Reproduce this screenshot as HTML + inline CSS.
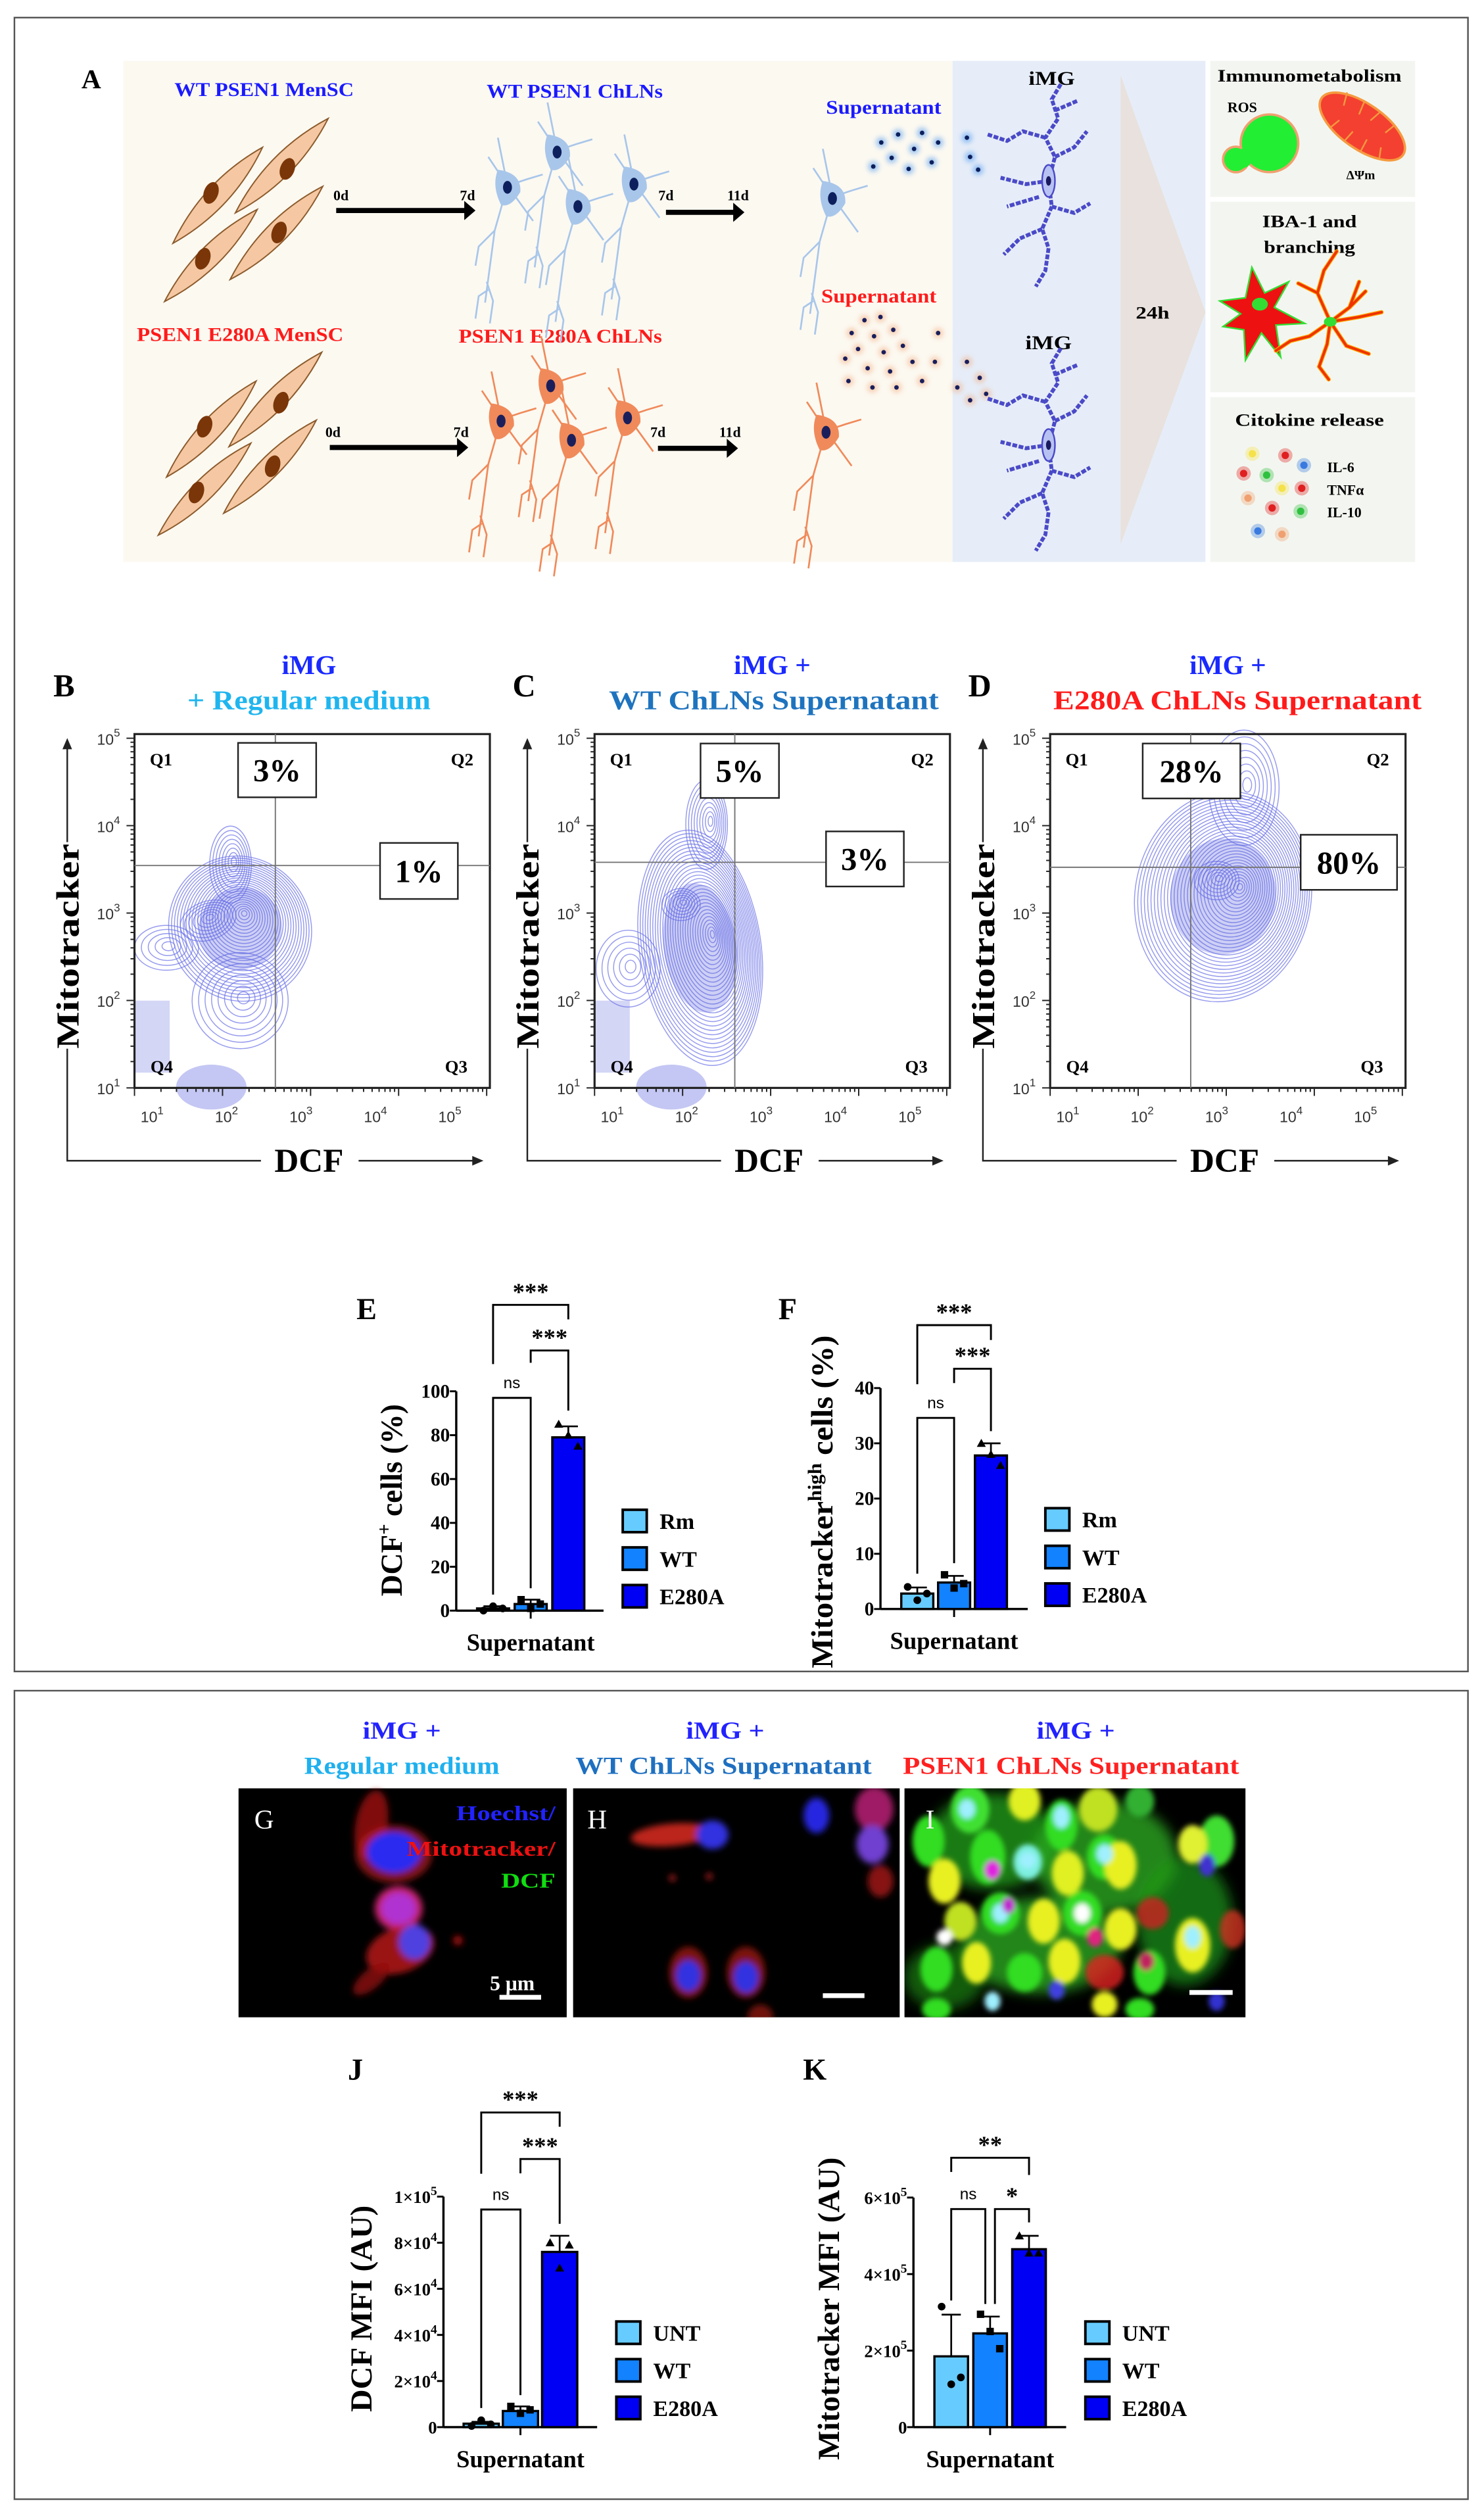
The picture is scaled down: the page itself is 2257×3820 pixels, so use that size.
<!DOCTYPE html>
<html><head><meta charset="utf-8"><style>
html,body{margin:0;padding:0;background:#fff;}
svg{display:block;}
text{font-family:"Liberation Serif",serif;}
.sans{font-family:"Liberation Sans",sans-serif;}
</style></head><body>
<svg id="fig" xmlns="http://www.w3.org/2000/svg" width="2257" height="3820" viewBox="0 0 927 1569">
<defs>
<filter id="blur1" x="-50%" y="-50%" width="200%" height="200%"><feGaussianBlur stdDeviation="1.6"/></filter>
<filter id="blur3" x="-50%" y="-50%" width="200%" height="200%"><feGaussianBlur stdDeviation="4"/></filter>
<filter id="blur2" x="-50%" y="-50%" width="200%" height="200%"><feGaussianBlur stdDeviation="2"/></filter>
</defs>
<rect width="927" height="1569" fill="#fff"/>
<rect x="9" y="11" width="908" height="1033" fill="none" stroke="#555" stroke-width="1"/>
<rect x="9" y="1056" width="908" height="505" fill="none" stroke="#555" stroke-width="1"/>

<g id="panelA">
<rect x="77" y="38" width="518" height="313" fill="#fcf9f1"/>
<rect x="595" y="38" width="158" height="313" fill="#e6edf8"/>
<polygon points="700,47 753,195 700,340" fill="#e8e1dd"/>
<text x="720" y="199" font-size="11" font-weight="bold" text-anchor="middle" textLength="21" lengthAdjust="spacingAndGlyphs">24h</text>
<rect x="756" y="38" width="128" height="85" fill="#f3f6f0"/>
<rect x="756" y="126" width="128" height="119" fill="#f3f6f0"/>
<rect x="756" y="248" width="128" height="103" fill="#f3f6f0"/>
<text x="57" y="55" font-size="17" font-weight="bold" text-anchor="middle">A</text>
<text x="165" y="60" font-size="12" font-weight="bold" fill="#1a1aff" text-anchor="middle" textLength="112" lengthAdjust="spacingAndGlyphs">WT PSEN1 MenSC</text>
<text x="359" y="61" font-size="12" font-weight="bold" fill="#1a1aff" text-anchor="middle" textLength="110" lengthAdjust="spacingAndGlyphs">WT PSEN1 ChLNs</text>
<text x="552" y="71" font-size="12" font-weight="bold" fill="#1a1aff" text-anchor="middle" textLength="72" lengthAdjust="spacingAndGlyphs">Supernatant</text>
<text x="549" y="189" font-size="12" font-weight="bold" fill="#ff1a1a" text-anchor="middle" textLength="72" lengthAdjust="spacingAndGlyphs">Supernatant</text>
<text x="150" y="213" font-size="12" font-weight="bold" fill="#ff1a1a" text-anchor="middle" textLength="129" lengthAdjust="spacingAndGlyphs">PSEN1 E280A MenSC</text>
<text x="350" y="214" font-size="12" font-weight="bold" fill="#ff1a1a" text-anchor="middle" textLength="127" lengthAdjust="spacingAndGlyphs">PSEN1 E280A ChLNs</text>
<text x="657" y="53" font-size="12" font-weight="bold" text-anchor="middle" textLength="29" lengthAdjust="spacingAndGlyphs">iMG</text>
<text x="655" y="218" font-size="12" font-weight="bold" text-anchor="middle" textLength="29" lengthAdjust="spacingAndGlyphs">iMG</text>
<text x="818" y="51" font-size="11" font-weight="bold" text-anchor="middle" textLength="115" lengthAdjust="spacingAndGlyphs">Immunometabolism</text>
<text x="776" y="70" font-size="9" font-weight="bold" text-anchor="middle">ROS</text>
<text x="850" y="112" font-size="8" font-weight="bold" text-anchor="middle">ΔΨm</text>
<text x="818" y="142" font-size="11" font-weight="bold" text-anchor="middle" textLength="59" lengthAdjust="spacingAndGlyphs">IBA-1 and</text>
<text x="818" y="158" font-size="11" font-weight="bold" text-anchor="middle" textLength="57" lengthAdjust="spacingAndGlyphs">branching</text>
<text x="818" y="266" font-size="11" font-weight="bold" text-anchor="middle" textLength="93" lengthAdjust="spacingAndGlyphs">Citokine release</text>
<text x="829" y="295" font-size="9" font-weight="bold">IL-6</text>
<text x="829" y="309" font-size="9" font-weight="bold">TNFα</text>
<text x="829" y="323" font-size="9" font-weight="bold">IL-10</text>
<g>
<circle cx="772" cy="99.6" r="8" fill="#22ee33" stroke="#f0a070" stroke-width="1.5"/>
<circle cx="793" cy="89.5" r="18" fill="#22ee33" stroke="#f0a070" stroke-width="1.5"/>
<circle cx="776" cy="99" r="6" fill="#22ee33"/>
</g>
<g transform="translate(851,79) rotate(35)">
<ellipse rx="31" ry="14" fill="#f44030" stroke="#f59a40" stroke-width="1.5"/>
<path d="M-20,-12 l3,8 M-8,-14 l2,9 M4,-14 l-2,8 M16,-12 l-2,7 M-16,12 l2,-7 M-4,14 l1,-8 M8,13 l-1,-8 M20,10 l-3,-6" stroke="#f59a40" stroke-width="1"/>
</g>
<g>
<path d="M762,188 L778,186 L782,167 L790,183 L805,176 L796,192 L815,202 L797,203 L800,223 L788,208 L778,225 L777,206 L764,204 L775,196 Z" fill="#ee1111" stroke="#33dd33" stroke-width="1"/>
<ellipse cx="787" cy="190" rx="5" ry="4" fill="#33dd33"/>
</g>
<g stroke="#ee3300" stroke-width="1.6" fill="none" stroke-linecap="round">
<path d="M831,201 l-8,-18 l4,-14 l8,-12 M831,201 l12,-9 l10,-10 M831,201 l18,-3 l14,-3 M831,201 l10,15 l14,5 M831,201 l-2,14 l-5,14 l6,8 M831,201 l-13,9 l-12,3 l-9,6 M823,183 l-12,-6 M843,192 l6,-16" stroke="#ffaa00" stroke-width="2.6"/>
<path d="M831,201 l-8,-18 l4,-14 l8,-12 M831,201 l12,-9 l10,-10 M831,201 l18,-3 l14,-3 M831,201 l10,15 l14,5 M831,201 l-2,14 l-5,14 l6,8 M831,201 l-13,9 l-12,3 l-9,6 M823,183 l-12,-6 M843,192 l6,-16"/>
<ellipse cx="831" cy="201" rx="4" ry="3" fill="#33dd33" stroke="none"/>
</g>
<g id="cytokines"></g>
<g id="cellsTop"></g>
<g id="cellsBot"></g>
<g id="arrowsA"></g>
</g>

<g id="flow"></g>

<g id="chartE"></g>
<g id="chartF"></g>
<g id="chartJ"></g>
<g id="chartK"></g>

<g font-weight="bold" text-anchor="middle">
<text x="251" y="1086" font-size="15" fill="#2222ff" textLength="49" lengthAdjust="spacingAndGlyphs">iMG +</text>
<text x="251" y="1108" font-size="15" fill="#1fb0ee" textLength="122" lengthAdjust="spacingAndGlyphs">Regular medium</text>
<text x="453" y="1086" font-size="15" fill="#2222ff" textLength="49" lengthAdjust="spacingAndGlyphs">iMG +</text>
<text x="452" y="1108" font-size="15" fill="#1e6fc0" textLength="185" lengthAdjust="spacingAndGlyphs">WT ChLNs  Supernatant</text>
<text x="672" y="1086" font-size="15" fill="#2222ff" textLength="49" lengthAdjust="spacingAndGlyphs">iMG +</text>
<text x="669" y="1108" font-size="15" fill="#ff2020" textLength="210" lengthAdjust="spacingAndGlyphs">PSEN1 ChLNs  Supernatant</text>
</g>
<g>
<rect x="149" y="1117" width="205" height="143" fill="#000"/>
<g id="mg" filter="url(#blur2)"></g>
<text x="165" y="1142" font-size="17" fill="#fff" text-anchor="middle">G</text>
<text x="347" y="1137" font-size="13" font-weight="bold" fill="#2222ff" text-anchor="end" textLength="62" lengthAdjust="spacingAndGlyphs">Hoechst/</text>
<text x="347" y="1159" font-size="13" font-weight="bold" fill="#ee1111" text-anchor="end" textLength="93" lengthAdjust="spacingAndGlyphs">Mitotracker/</text>
<text x="347" y="1179" font-size="13" font-weight="bold" fill="#11dd11" text-anchor="end" textLength="34" lengthAdjust="spacingAndGlyphs">DCF</text>
<text x="320" y="1243" font-size="13" font-weight="bold" fill="#fff" text-anchor="middle">5 μm</text>
<rect x="312" y="1246" width="26" height="3" fill="#fff"/>
</g>
<g>
<rect x="358" y="1117" width="204" height="143" fill="#000"/>
<svg x="358" y="1117" width="204" height="143" viewBox="358 1117 204 143"><g id="mh" filter="url(#blur2)"></g></svg>
<text x="373" y="1142" font-size="17" fill="#fff" text-anchor="middle">H</text>
<rect x="514" y="1245" width="26" height="3" fill="#fff"/>
</g>
<g>
<rect x="565" y="1117" width="213" height="143" fill="#000"/>
<svg x="565" y="1117" width="213" height="143" viewBox="565 1117 213 143"><g id="miBg" filter="url(#blur3)"></g><g id="mi" filter="url(#blur1)"></g></svg>
<text x="581" y="1142" font-size="17" fill="#fff" text-anchor="middle">I</text>
<rect x="743" y="1243" width="27" height="3" fill="#fff"/>
</g>
</svg>
<script>
const eCategories = ['Rm', 'WT', 'E280A'];
const eMeans = [1, 3, 79];
const eErrors = [1, 2, 5];
const ePoints = [[0, 2, 1], [5, 1, 3], [85, 80, 75]];
const eTicks = [0, 20, 40, 60, 80, 100];
const eTickLabels = ['0', '20', '40', '60', '80', '100'];

const fCategories = ['Rm', 'WT', 'E280A'];
const fMeans = [2.8, 4.8, 27.8];
const fErrors = [1.1, 1.2, 2.2];
const fPoints = [[4, 1.6, 2.8], [6.2, 3.8, 4.6], [30, 28, 26]];
const fTicks = [0, 10, 20, 30, 40];
const fTickLabels = ['0', '10', '20', '30', '40'];

const jCategories = ['UNT', 'WT', 'E280A'];
const jMeans = [1500, 7000, 76000];
const jErrors = [800, 2000, 7000];
const jPoints = [[500, 3000, 1200], [9000, 6000, 7500], [80000, 69000, 79000]];
const jTicks = [0, 20000, 40000, 60000, 80000, 100000];
const jTickLabels = ['0', '2×10^4', '4×10^4', '6×10^4', '8×10^4', '1×10^5'];

const kCategories = ['UNT', 'WT', 'E280A'];
const kMeans = [185000, 245000, 465000];
const kErrors = [109000, 44000, 35000];
const kPoints = [[315000, 112000, 130000], [295000, 250000, 205000], [500000, 455000, 455000]];
const kTicks = [0, 200000, 400000, 600000];
const kTickLabels = ['0', '2×10^5', '4×10^5', '6×10^5'];

const barColors = ['#66ccff', '#1282ff', '#0000f5'];
const NS = 'http://www.w3.org/2000/svg';
function mk(tag, attrs, parent) {
  const e = document.createElementNS(NS, tag);
  for (const k in attrs) e.setAttribute(k, attrs[k]);
  if (parent) parent.appendChild(e);
  return e;
}
function supText(parent, str, attrs, supSize) {
  const t = mk('text', attrs, parent);
  const parts = str.split('^');
  t.appendChild(document.createTextNode(parts[0]));
  if (parts[1] !== undefined) {
    const s = mk('tspan', {'font-size': supSize, dy: -5}, t);
    s.textContent = parts[1];
  }
  return t;
}

function barChart(g, cfg, cats, means, errs, pts, ticks, tickLabels, brackets) {
  const y = v => cfg.y0 - v / cfg.vmax * (cfg.y0 - cfg.yTop);
  const bx = i => cfg.x0 + cfg.offset + i * cfg.spacing;
  const ya = mk('line', {x1: cfg.x0, y1: cfg.y0, x2: cfg.x0, y2: cfg.yTop, stroke: '#000', 'stroke-width': 1.4}, g);
  
  
  const xa = mk('line', {x1: cfg.x0, y1: cfg.y0, x2: cfg.xEnd, y2: cfg.y0, stroke: '#000', 'stroke-width': 1.4}, g);
  
  
  const xt = mk('line', {x1: bx(1), y1: cfg.y0, x2: bx(1), y2: cfg.y0 + 5, stroke: '#000', 'stroke-width': 1.2}, g);
  
  
  ticks.forEach((v, i) => {
    const tk = mk('line', {x1: cfg.x0 - 4, y1: y(v), x2: cfg.x0, y2: y(v), stroke: '#000', 'stroke-width': 1.2}, g);
    
    
    const tl = supText(g, tickLabels[i], {x: cfg.x0 - 4, y: y(v) + 4, 'font-size': cfg.tickFont, 'font-weight': 'bold', 'text-anchor': 'end'}, 8);
    
    
  });
  cats.forEach((c, i) => {
    const r = mk('rect', {x: bx(i) - cfg.bw / 2, y: y(means[i]), width: cfg.bw, height: cfg.y0 - y(means[i]), fill: barColors[i], stroke: '#000', 'stroke-width': 1.4}, g);
    
    
    const eb = mk('path', {d: `M${bx(i)},${y(means[i])}V${y(means[i] + errs[i])}M${bx(i) - 6},${y(means[i] + errs[i])}h12`, stroke: '#000', 'stroke-width': 1.1, fill: 'none'}, g);
    
    
    pts[i].forEach((p, j) => {
      const px = bx(i) + (j - 1) * 6, py = y(p);
      let m;
      if (i === 0) m = mk('circle', {cx: px, cy: py, r: 2.4, fill: '#000'}, g);
      else if (i === 1) m = mk('rect', {x: px - 2.3, y: py - 2.3, width: 4.6, height: 4.6, fill: '#000'}, g);
      else m = mk('path', {d: `M${px},${py - 2.8}L${px + 2.8},${py + 2.2}L${px - 2.8},${py + 2.2}Z`, fill: '#000'}, g);
      
      
    });
    const ly = cfg.legY + i * cfg.legGap;
    const ls = mk('rect', {x: cfg.legX, y: ly - 7, width: 15, height: 14, fill: barColors[i], stroke: '#000', 'stroke-width': 1.6}, g);
    
    
    const lt = mk('text', {x: cfg.legX + 23, y: ly + 5, 'font-size': 14, 'font-weight': 'bold'}, g);
    lt.textContent = c;
    
    
  });
  brackets.forEach(b => {
    const xa_ = bx(b.a) + (b.da || 0), xb_ = bx(b.b) + (b.db || 0);
    const p = mk('path', {d: `M${xa_},${y(b.yl)}V${y(b.y)}H${xb_}V${y(b.yr)}`, stroke: '#000', 'stroke-width': 1.2, fill: 'none'}, g);
    
    
    const isNs = b.label === 'ns';
    const t = mk('text', {x: (xa_ + xb_) / 2, y: y(b.y) - (isNs ? 6 : 3), 'font-size': isNs ? 10 : 15, 'font-weight': isNs ? 'normal' : 'bold', 'text-anchor': 'middle', class: isNs ? 'sans' : ''}, g);
    t.textContent = b.label;
    
    
  });
  const xl = mk('text', {x: bx(1), y: cfg.y0 + 25, 'font-size': 15, 'font-weight': 'bold', 'text-anchor': 'middle'}, g);
  xl.textContent = 'Supernatant';
  
  
  const yt = mk('text', {x: 0, y: 0, 'font-size': 19, 'font-weight': 'bold', 'text-anchor': 'middle', transform: `translate(${cfg.ytX},${cfg.ytY}) rotate(-90)`, textLength: cfg.ytLen, lengthAdjust: 'spacingAndGlyphs'}, g);
  cfg.ytParts.forEach(pp => {
    const s = mk('tspan', pp.sup ? {'font-size': 12, dy: -7} : (pp.after ? {dy: 7} : {}), yt);
    s.textContent = pp.t;
  });
  
  
  const pl = mk('text', {x: cfg.letX, y: cfg.letY, 'font-size': 19, 'font-weight': 'bold', 'text-anchor': 'middle'}, g);
  pl.textContent = cfg.letter;
  
  
}

barChart(document.getElementById('chartE'),
  {x0: 285, y0: 1006, yTop: 869, vmax: 100, offset: 23, spacing: 23.5, bw: 20, xEnd: 377, tickFont: 12, legX: 389, legY: 950, legGap: 23.5,
   ytX: 251, ytY: 937, ytLen: 120, ytParts: [{t: 'DCF'}, {t: '+', sup: true}, {t: ' cells (%)', after: true}], letter: 'E', letX: 229, letY: 824},
  eCategories, eMeans, eErrors, ePoints, eTicks, eTickLabels,
  [{a: 0, b: 2, y: 139.4, yl: 112.4, yr: 132.8, label: '***'},
   {a: 1, b: 2, y: 118.6, yl: 113, yr: 91.2, label: '***'},
   {a: 0, b: 1, y: 97, yl: 7.3, yr: 10.2, label: 'ns'}]);

barChart(document.getElementById('chartF'),
  {x0: 550, y0: 1005, yTop: 867, vmax: 40, offset: 23, spacing: 23, bw: 20, xEnd: 642, tickFont: 12, legX: 653, legY: 949, legGap: 23.5,
   ytX: 520, ytY: 938, ytLen: 208, ytParts: [{t: 'Mitotracker'}, {t: 'high', sup: true}, {t: ' cells (%)', after: true}], letter: 'F', letX: 492, letY: 824},
  fCategories, fMeans, fErrors, fPoints, fTicks, fTickLabels,
  [{a: 0, b: 2, y: 51.4, yl: 40.7, yr: 48.7, label: '***'},
   {a: 1, b: 2, y: 43.5, yl: 40.9, yr: 32.2, label: '***'},
   {a: 0, b: 1, y: 34.6, yl: 6.4, yr: 8.3, label: 'ns'}]);

barChart(document.getElementById('chartJ'),
  {x0: 277, y0: 1516, yTop: 1372, vmax: 100000, offset: 23.6, spacing: 24.5, bw: 22, xEnd: 373, tickFont: 11, legX: 385, legY: 1457, legGap: 23.5,
   ytX: 232, ytY: 1442, ytLen: 129, ytParts: [{t: 'DCF MFI (AU)'}], letter: 'J', letX: 222, letY: 1299},
  jCategories, jMeans, jErrors, jPoints, jTicks, jTickLabels,
  [{a: 0, b: 2, y: 136500, yl: 109900, yr: 130300, label: '***'},
   {a: 1, b: 2, y: 116300, yl: 110100, yr: 88200, label: '***'},
   {a: 0, b: 1, y: 94400, yl: 8300, yr: 13900, label: 'ns'}]);

barChart(document.getElementById('chartK'),
  {x0: 570.6, y0: 1516, yTop: 1372.6, vmax: 600000, offset: 23.6, spacing: 24.3, bw: 21, xEnd: 666, tickFont: 11, legX: 678, legY: 1457, legGap: 23.5,
   ytX: 524, ytY: 1442, ytLen: 189, ytParts: [{t: 'Mitotracker MFI (AU)'}], letter: 'K', letX: 509, letY: 1299},
  kCategories, kMeans, kErrors, kPoints, kTicks, kTickLabels,
  [{a: 0, b: 2, y: 704000, yl: 667000, yr: 659000, label: '**'},
   {a: 0, b: 1, y: 570000, yl: 331000, yr: 322000, db: -3, label: 'ns'},
   {a: 1, b: 2, y: 570000, yl: 322000, yr: 535000, da: 3, label: '*'}]);

const flowLetters = ['B', 'C', 'D'];
const flowOffsets = [0, 287.4, 572];
const flowQ1Labels = ['3%', '5%', '28%'];
const flowQ2Labels = ['1%', '3%', '80%'];
const flowTitle1 = ['iMG', 'iMG +', 'iMG +'];
const flowTitle2 = ['+ Regular medium', 'WT ChLNs  Supernatant', 'E280A ChLNs  Supernatant'];
const flowTitle2Color = ['#1fb5ee', '#1e73be', '#ff1a1a'];
const flowTitle2Len = [152, 206, 230];
const flowQuadX = [172, 171.6, 171.8];
const flowQuadY = [540.6, 538.6, 541.7];
const flowBoxA = [[148.7, 464, 48.8, 34], [150.2, 464.4, 49, 34], [141.8, 464.4, 61, 34.3]];
const flowBoxB = [[237.4, 526.5, 48.6, 35], [228.6, 519.3, 48.6, 34.4], [240.5, 521.4, 60.2, 34.4]];
const flowBlobs = [
  [[150, 580, 44, 46, -35, 26], [144, 540, 13, 24, 0, 8], [104, 592, 20, 14, 0, 5], [130, 575, 18, 12, -20, 7], [150, 625, 30, 30, 0, 8]],
  [[150, 592, 38, 74, -8, 30], [154, 515, 13, 28, 0, 9], [138, 565, 12, 10, 0, 6], [105, 605, 20, 24, 0, 6]],
  [[192, 560, 55, 66, 10, 32], [205, 492, 22, 36, 0, 8], [188, 550, 14, 12, 0, 6]]
];
const fl = document.getElementById('flow');
const X0 = 84, X1 = 306, Y0 = 679.5, Y1 = 458.5;
const decX = d => X0 + (d - 1) * 55;
const decY = d => Y0 - (d - 1) * 54.6;
flowLetters.forEach((L, p) => {
  const o = flowOffsets[p];
  const g = mk('g', {transform: `translate(${o},0)`}, fl);
  
  
  const cg = mk('g', {fill: 'none', stroke: '#6a70e6', 'stroke-opacity': 0.7, 'stroke-width': 0.6}, g);
  
  
  if (p < 2) {
    const f1 = mk('rect', {x: 84, y: 625, width: 22, height: 45, fill: '#d4d6f6', stroke: 'none'}, cg);
    
    
    const f2 = mk('ellipse', {cx: 132, cy: 679, rx: 22, ry: 14, fill: '#c4c7f3', stroke: 'none'}, cg);
    
    
  }
  flowBlobs[p].forEach(b => {
    for (let k = 0; k < b[5]; k++) {
      const f = 1 - k / b[5];
      const e = mk('ellipse', {cx: b[0] + k * 0.3, cy: b[1] - k * 0.25, rx: Math.max(1, b[2] * f), ry: Math.max(1, b[3] * f), transform: `rotate(${b[4]},${b[0]},${b[1]})`}, cg);
      
      
    }
  });
  const core = mk('ellipse', {cx: flowBlobs[p][0][0], cy: flowBlobs[p][0][1], rx: flowBlobs[p][0][2] * 0.6, ry: flowBlobs[p][0][3] * 0.55, fill: '#5a60dd', opacity: 0.3, stroke: 'none', transform: `rotate(${flowBlobs[p][0][4]},${flowBlobs[p][0][0]},${flowBlobs[p][0][1]})`}, cg);
  
  
  const box = mk('rect', {x: X0, y: Y1, width: X1 - X0, height: Y0 - Y1, fill: 'none', stroke: '#222', 'stroke-width': 1.3}, g);
  
  
  const qv = mk('line', {x1: flowQuadX[p], y1: Y1, x2: flowQuadX[p], y2: Y0, stroke: '#777', 'stroke-width': 0.8}, g);
  
  
  const qh = mk('line', {x1: X0, y1: flowQuadY[p], x2: X1, y2: flowQuadY[p], stroke: '#777', 'stroke-width': 0.8}, g);
  
  
  for (let d = 1; d <= 5; d++) {
    for (let m = 1; m <= 9; m++) {
      const v = d + Math.log10(m);
      if (v > 5.2) continue;
      const len = m === 1 ? 5 : 2.5;
      const tx = mk('line', {x1: decX(v), y1: Y0, x2: decX(v), y2: Y0 + len, stroke: '#222', 'stroke-width': 0.8}, g);
      
      
      const ty = mk('line', {x1: X0 - len, y1: decY(v), x2: X0, y2: decY(v), stroke: '#222', 'stroke-width': 0.8}, g);
      
      
    }
    const lx = supText(g, '10^' + d, {x: 95 + (d - 1) * 46.5, y: 701, 'font-size': 9.5, fill: '#333', 'text-anchor': 'middle', class: 'sans'}, 7);
    
    
    const ly = supText(g, '10^' + d, {x: 75, y: decY(d) + 4, 'font-size': 9.5, fill: '#333', 'text-anchor': 'end', class: 'sans'}, 7);
    
    
  }
  const qls = [['Q1', 100.6, 478], ['Q2', 288.7, 478], ['Q4', 101, 670], ['Q3', 285, 670]];
  qls.forEach(q => {
    const t = mk('text', {x: q[1], y: q[2], 'font-size': 11, 'font-weight': 'bold', 'text-anchor': 'middle'}, g);
    t.textContent = q[0];
    
    
  });
  [[flowBoxA[p], flowQ1Labels[p]], [flowBoxB[p], flowQ2Labels[p]]].forEach((bb, i) => {
    const r = mk('rect', {x: bb[0][0], y: bb[0][1], width: bb[0][2], height: bb[0][3], fill: '#fff', stroke: '#222', 'stroke-width': 1}, g);
    
    
    const t = mk('text', {x: bb[0][0] + bb[0][2] / 2, y: bb[0][1] + bb[0][3] / 2 + 7, 'font-size': 20, 'font-weight': 'bold', 'text-anchor': 'middle'}, g);
    t.textContent = bb[1];
    
    
  });
  const ar = mk('path', {d: 'M42,526V466M42,655V725H163M224,725H297', stroke: '#222', 'stroke-width': 1, fill: 'none'}, g);
  
  
  const ah = mk('path', {d: 'M39,468L42,461L45,468ZM295,722L302,725L295,728Z', fill: '#222'}, g);
  
  
  const yl = mk('text', {x: 0, y: 0, 'font-size': 20, 'font-weight': 'bold', 'text-anchor': 'middle', transform: 'translate(49,591) rotate(-90)', textLength: 128, lengthAdjust: 'spacingAndGlyphs'}, g);
  yl.textContent = 'Mitotracker';
  
  
  const xl = mk('text', {x: 193, y: 732, 'font-size': 21, 'font-weight': 'bold', 'text-anchor': 'middle'}, g);
  xl.textContent = 'DCF';
  
  
  const pl = mk('text', {x: 40, y: 435, 'font-size': 20, 'font-weight': 'bold', 'text-anchor': 'middle'}, g);
  pl.textContent = L;
  
  
  const t1 = mk('text', {x: p === 0 ? 193 : 195, y: 421, 'font-size': 17, 'font-weight': 'bold', 'text-anchor': 'middle', fill: '#1a2aff'}, g);
  t1.textContent = flowTitle1[p];
  
  
  const t2 = mk('text', {x: p === 0 ? 193 : (p === 1 ? 196 : 201), y: 443, 'font-size': 17, 'font-weight': 'bold', 'text-anchor': 'middle', fill: flowTitle2Color[p], textLength: flowTitle2Len[p], lengthAdjust: 'spacingAndGlyphs'}, g);
  t2.textContent = flowTitle2[p];
  
  
});

function spindle(g, ax, ay, bx_, by, w, nx, ny, fill, stroke, nuc) {
  const mx = (ax + bx_) / 2, my = (ay + by) / 2;
  const dx = bx_ - ax, dy = by - ay, L = Math.hypot(dx, dy);
  const px = -dy / L * w, py = dx / L * w;
  const s = mk('path', {d: `M${ax},${ay}Q${mx + px},${my + py} ${bx_},${by}Q${mx - px},${my - py} ${ax},${ay}Z`, fill: fill, stroke: stroke, 'stroke-width': 0.8}, g);
  
  
  const n = mk('ellipse', {cx: nx, cy: ny, rx: 4.5, ry: 7, fill: nuc, transform: `rotate(20,${nx},${ny})`}, g);
  
  
}
function neuron(g, x, y, col, dark) {
  const d = mk('path', {d: `M${x},${y}l-6,-30 M${x},${y}l12,-4 l10,-3 M${x},${y}l-12,-18 M${x},${y}l-8,28 l-6,45 M${x - 12},${y + 65}l-6,4 l-2,14 M${x - 13},${y + 60}l4,12 l-2,14 M${x - 8},${y + 28}l-10,10 l-2,12 M${x},${y}l16,22`, stroke: col, 'stroke-width': 1.1, fill: 'none'}, g);
  
  
  const s = mk('path', {d: `M${x - 6},${y - 10}Q${x + 9},${y - 8} ${x + 8},${y + 4}Q${x + 2},${y + 14} ${x - 4},${y + 12}Q${x - 10},${y} ${x - 6},${y - 10}Z`, fill: col}, g);
  
  
  const n = mk('ellipse', {cx: x, cy: y + 1, rx: 2.8, ry: 4, fill: dark}, g);
  
  
}
function microglia(g, x, y) {
  const p = mk('path', {d: `M${x},${y}l4,-15 l-6,-12 l8,-12 l-4,-12 l6,-10 M${x + 4},${y - 15}l12,-6 l8,-10 M${x - 2},${y - 27}l-14,-4 l-10,6 l-12,-4 M${x},${y}l-14,2 l-16,-4 M${x},${y}l2,16 l-6,14 l4,12 M${x + 2},${y + 16}l14,4 l10,-6 M${x - 4},${y + 30}l-14,6 l-10,10 M${x},${y + 42}l-2,14 l-6,10 M${x + 4},${y - 44}l14,-6 M${x - 6},${y + 10}l-20,6`, stroke: '#4a4ac8', 'stroke-width': 2.4, fill: 'none', 'stroke-dasharray': '3 1'}, g);
  
  
  const s = mk('ellipse', {cx: x, cy: y, rx: 4, ry: 10, fill: '#b8c2f2', stroke: '#4a4ac8', 'stroke-width': 1}, g);
  
  
  const n = mk('ellipse', {cx: x, cy: y, rx: 1.6, ry: 3, fill: '#1a1a60'}, g);
  
  
}
function drawRow(gid, dy, dx, col, dark, dotCol, dots) {
  const g = document.getElementById(gid);
  const cells = [[205, 74, 147, 133, 179.5, 105.5], [164, 92, 108, 152, 131.8, 120.5], [201.6, 116.4, 143.7, 174.6, 174.3, 145.2], [160.7, 130.8, 102.8, 188.3, 126.7, 161.6]];
  cells.forEach(c => spindle(g, c[0] + dx, c[1] + dy, c[2] + dx, c[3] + dy, 13, c[4] + dx, c[5] + dy, '#f5c8a3', '#8b5a2b', '#7a3608'));
  [[348, 94], [317, 116], [396, 114], [361, 128], [520, 123]].forEach(n => neuron(g, n[0] + dx, n[1] + dy, col, dark));
  dots.forEach(d => {
    const c = mk('circle', {cx: d[0], cy: d[1] + dy, r: 3.2, fill: dotCol, opacity: 0.5, filter: 'url(#blur1)'}, g);
    
    
    const c2 = mk('circle', {cx: d[0], cy: d[1] + dy, r: 1.4, fill: dark}, g);
    
    
  });
  microglia(g, 655, 113 + dy * 1.13);
}
drawRow('cellsTop', 0, 0, '#a8c6ea', '#0d1f5c', '#3388ee',
  [[561, 84], [576, 83], [550.5, 89], [586, 89], [571, 93], [557, 98.6], [545.5, 104], [582, 101.4], [567.6, 105.5], [604, 86], [606, 98], [611, 106]]);
drawRow('cellsBot', 146, -4, '#f08a5a', '#1a1f5c', '#f0a070',
  [[540, 54], [550, 52], [532, 62], [546, 64], [558, 60], [536, 72], [528, 78], [552, 74], [564, 70], [542, 84], [556, 86], [530, 92], [545, 96], [570, 80], [560, 96], [586, 62], [584, 80], [576, 92], [598, 96], [604, 80], [612, 90], [606, 104], [616, 100]]);
const aG = document.getElementById('arrowsA');
[[210, 297, 131.5], [416, 465, 132.6], [206, 292.5, 279.5], [411, 461, 280]].forEach(a => {
  const l = mk('path', {d: `M${a[0]},${a[2]}H${a[1] - 6}`, stroke: '#000', 'stroke-width': 3.2}, aG);
  
  
  const h = mk('path', {d: `M${a[1] - 7},${a[2] - 6}L${a[1]},${a[2]}L${a[1] - 7},${a[2] + 6}Z`, fill: '#000'}, aG);
  
  
});
[['0d', 213, 125], ['7d', 292, 125], ['7d', 416, 125], ['11d', 461, 125], ['0d', 208, 273], ['7d', 288, 273], ['7d', 411, 273], ['11d', 456, 273]].forEach(t => {
  const e = mk('text', {x: t[1], y: t[2], 'font-size': 9, 'font-weight': 'bold', 'text-anchor': 'middle'}, aG);
  e.textContent = t[0];
  
  
});
const cyt = document.getElementById('cytokines');
[[255, 1220, '#f5e14a'], [405, 1225, '#e02020'], [490, 1255, '#3a7ae0'], [215, 1280, '#e02020'], [320, 1285, '#30c040'], [390, 1325, '#f5e14a'], [480, 1325, '#e02020'], [235, 1355, '#f0a070'], [345, 1385, '#e02020'], [475, 1395, '#30c040'], [280, 1455, '#3a7ae0'], [390, 1465, '#f0a070']].forEach(c => {
  const x = 747.4 + c[0] / 7.3, y = 32.9 + c[1] / 4.87;
  const e = mk('circle', {cx: x, cy: y, r: 4.5, fill: c[2], opacity: 0.35}, cyt);
  
  
  const e2 = mk('circle', {cx: x, cy: y, r: 2.3, fill: c[2]}, cyt);
  
  
});

function blobs(id, list) {
  const g = document.getElementById(id);
  list.forEach(b => {
    const e = mk('ellipse', {cx: b[0], cy: b[1], rx: b[2], ry: b[3], fill: b[4], opacity: b[5] || 1, transform: `rotate(${b[6] || 0},${b[0]},${b[1]})`}, g);
    
    
  });
}
blobs('mg', [[232, 1140, 10, 22, '#a01010', 0.8, 10], [246, 1158, 24, 18, '#b01818', 0.7], [246, 1157, 17, 13, '#2a2af0'], [249, 1192, 15, 14, '#c02060'], [249, 1192, 11, 10, '#b030d0'], [250, 1218, 22, 14, '#c01818', 0.8, -20], [232, 1236, 14, 6, '#901010', 0.8, -40], [259, 1213, 10, 11, '#5040e0'], [286, 1212, 3, 3, '#a01010']]);
blobs('mh', [[420, 1146, 26, 7, '#d02820', 0.9, -5], [445, 1146, 10, 9, '#3030e0'], [510, 1134, 8, 11, '#2828e0'], [546, 1130, 12, 14, '#b02070', 0.9], [545, 1152, 10, 12, '#7040d0'], [550, 1175, 8, 10, '#c02020', 0.7], [430, 1232, 12, 16, '#b02010', 0.7], [466, 1232, 12, 16, '#b02010', 0.7], [430, 1234, 8, 10, '#3030e0'], [466, 1235, 8, 10, '#3030e0'], [420, 1173, 2, 2, '#c02020'], [443, 1172, 2, 2, '#c02020'], [475, 1260, 8, 8, '#a01a10', 0.7]]);
blobs('miBg', [[620, 1150, 40, 30, '#1f9a18', 0.8], [690, 1160, 45, 35, '#2aa820', 0.8], [650, 1215, 50, 30, '#2aa820', 0.8], [740, 1200, 30, 40, '#1f9a18', 0.7], [590, 1235, 25, 20, '#1f9a18', 0.6]]);
blobs('mi', [
  [580, 1150, 10, 16, '#30dd20'], [606, 1130, 12, 15, '#40e030'], [640, 1125, 10, 12, '#e0f020'], [663, 1140, 10, 16, '#30dd20'], [686, 1130, 12, 14, '#c0e020'], [712, 1125, 9, 10, '#30b030'],
  [590, 1175, 10, 14, '#e8f020'], [617, 1160, 11, 17, '#30dd20'], [642, 1163, 9, 11, '#7ef0e0'], [667, 1170, 10, 14, '#e0f020'], [690, 1160, 11, 14, '#30dd20'], [700, 1165, 10, 15, '#e8f020'], [760, 1150, 11, 16, '#40dd30'], [745, 1152, 9, 12, '#e0f030'],
  [600, 1200, 10, 12, '#c0e020'], [625, 1195, 12, 13, '#30dd20'], [652, 1200, 10, 14, '#e8f020'], [676, 1195, 12, 14, '#30dd20'], [700, 1205, 10, 13, '#e8f020'], [720, 1195, 10, 10, '#d02020', 0.8],
  [585, 1230, 10, 14, '#30dd20'], [610, 1226, 9, 13, '#e8f020'], [640, 1232, 11, 12, '#30dd20'], [665, 1225, 10, 14, '#e8f020'], [690, 1232, 12, 11, '#e02020', 0.8], [718, 1232, 10, 14, '#30dd20'], [745, 1215, 11, 17, '#e8f020'], [770, 1205, 8, 12, '#d03020', 0.8],
  [604, 1130, 5, 6, '#9ff0ff'], [663, 1135, 5, 7, '#9ff0ff'], [642, 1162, 5, 5, '#9ff0ff'], [690, 1158, 5, 6, '#a0f0ff'], [625, 1195, 5, 6, '#9ff0ff'], [676, 1195, 5, 6, '#ffffff'], [590, 1210, 5, 5, '#ffffff'], [745, 1210, 5, 7, '#9ff0ff'], [620, 1250, 5, 6, '#9ff0ff'],
  [620, 1168, 5, 6, '#e020e0'], [630, 1190, 4, 5, '#c020d0'], [684, 1210, 5, 6, '#e02080'], [660, 1243, 5, 6, '#4040e0'], [716, 1225, 5, 6, '#c02060'], [754, 1165, 5, 7, '#4030d0'], [760, 1250, 5, 6, '#3030d0'], [690, 1252, 8, 8, '#e8f020'], [712, 1255, 9, 7, '#30dd20'], [585, 1255, 9, 7, '#30dd20']
]);
</script>
</body></html>
